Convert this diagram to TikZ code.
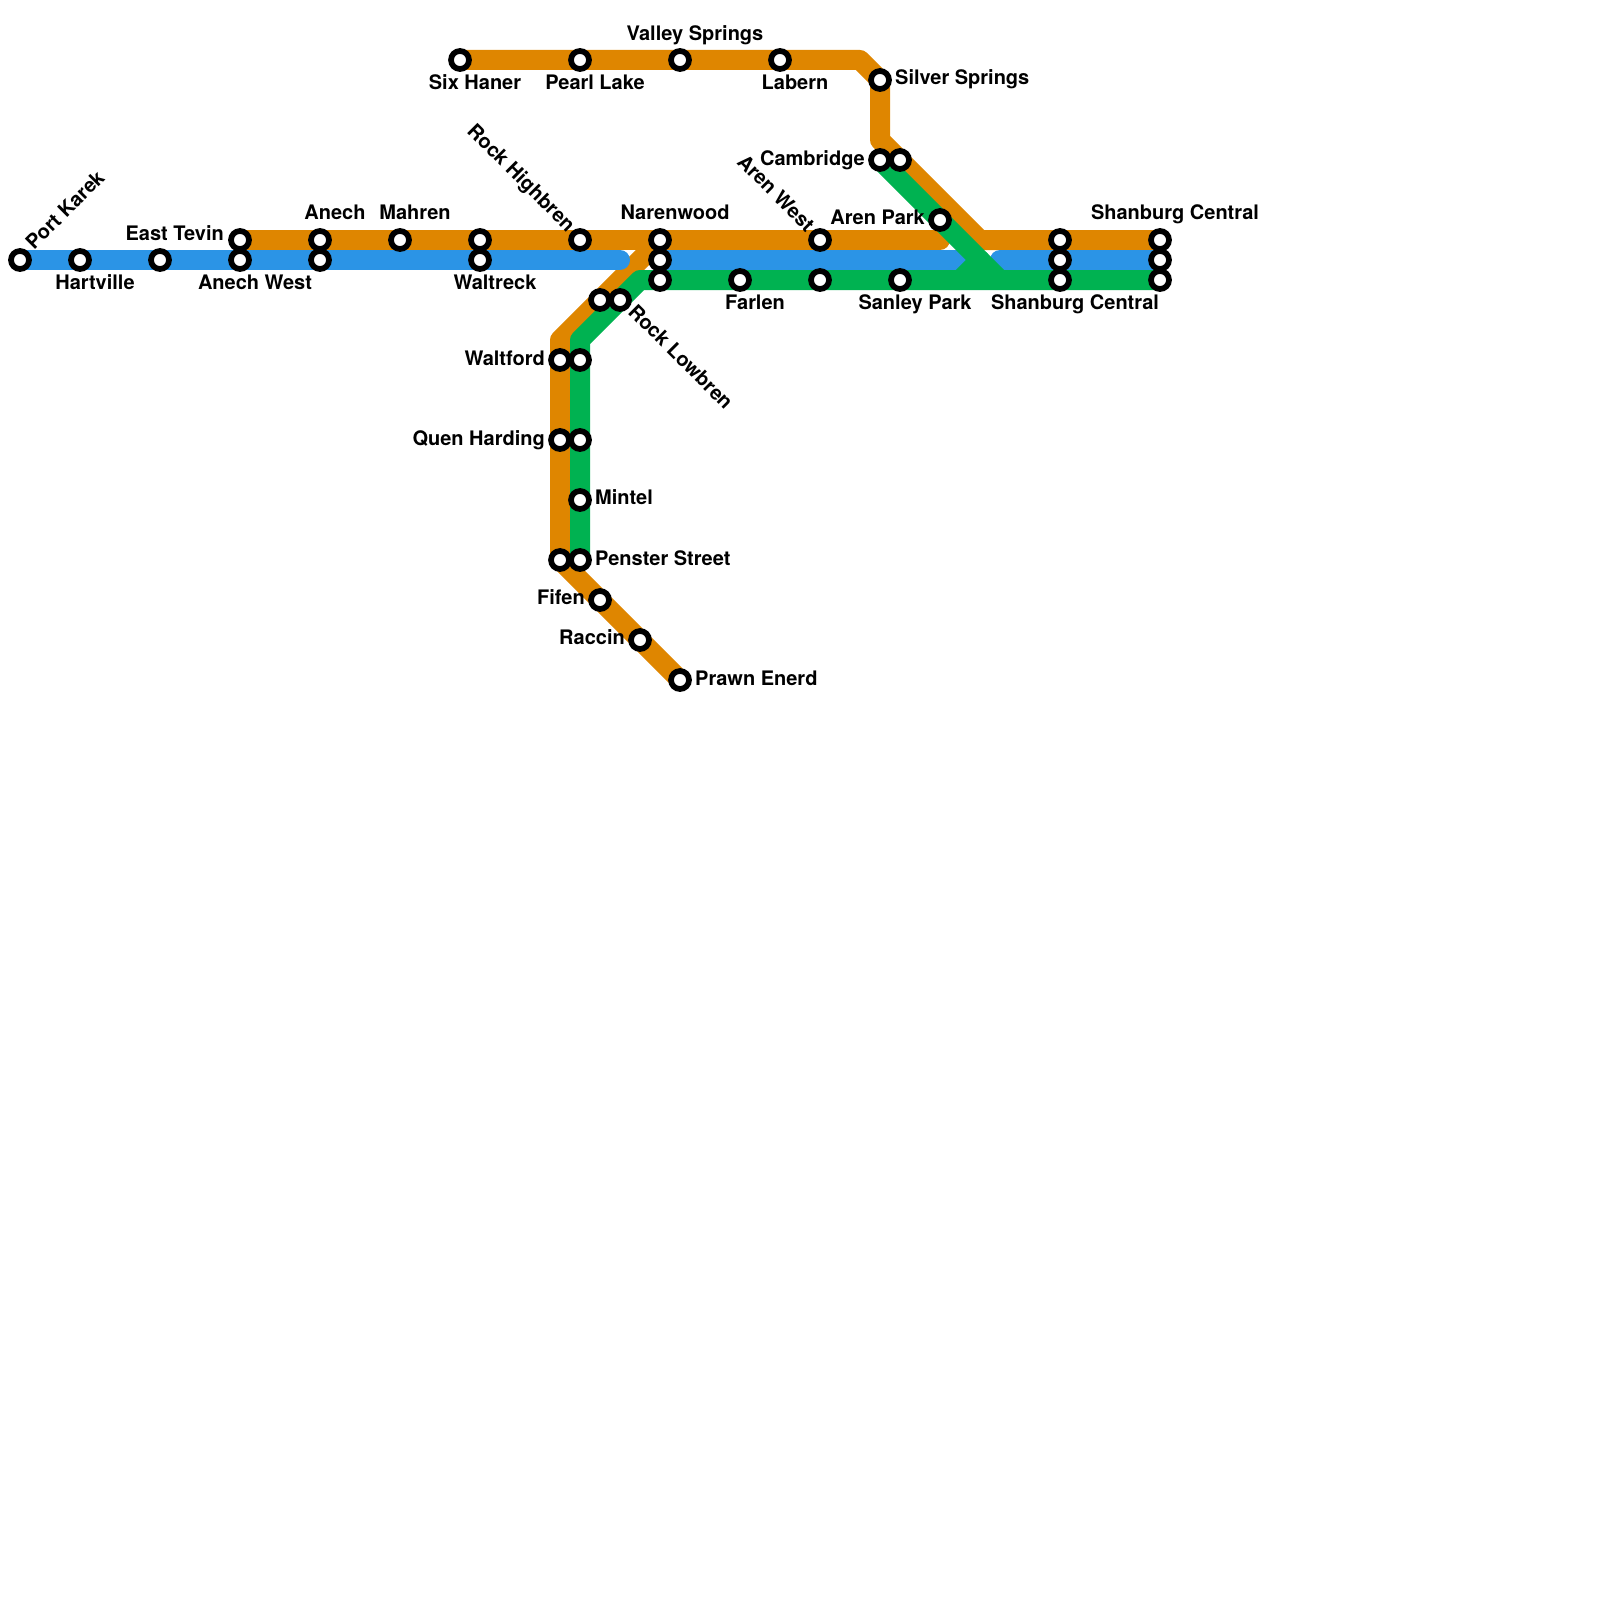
\documentclass[tikz,border=0pt]{standalone}
\usepackage{fontspec}
\setmainfont{TeX Gyre Heros}
\usetikzlibrary{backgrounds}
\definecolor{lineorange}{HTML}{DF8600}
\definecolor{lineblue}{HTML}{2B94E6}
\definecolor{linegreen}{HTML}{00B251}
\tikzset{
  x=1pt,y=-1pt,
  stn/.style={circle,draw=black,fill=white,line width=5.7pt,minimum size=18pt,inner sep=0pt},
  route/.style={line width=20pt,line cap=round,line join=round},
  lbl/.style={font=\fontsize{20pt}{22pt}\selectfont\bfseries,text=black,inner sep=0pt},
  lc/.style={lbl,anchor=base},
  ll/.style={lbl,anchor=base west},
  lr/.style={lbl,anchor=base east},
}
\begin{document}
\begin{tikzpicture}
\useasboundingbox (0,0) rectangle (1600,1600);
% stations
\foreach \n/\x/\y in {
 portkarek/20/260, hartville/80/260, blueC/160/260, easttevin/240/240, anechwest/240/260,
 anech/320/240, anechB/320/260, mahren/400/240, waltreckA/480/240, waltreck/480/260,
 rockhigh/580/240, narenA/660/240, narenB/660/260, narenC/660/280, farlen/740/280,
 arenwest/820/240, arenwestB/820/280, sanley/900/280, arenpark/940/220,
 shanAa/1060/240, shanAb/1060/260, shanAc/1060/280, shanBa/1160/240, shanBb/1160/260, shanBc/1160/280,
 cambridge/880/160, cambridgeB/900/160, silver/880/80, sixhaner/460/60, pearl/580/60,
 valley/680/60, labern/780/60, lowA/600/300, lowB/620/300, waltfordA/560/360, waltfordB/580/360,
 quenA/560/440, quenB/580/440, mintel/580/500, pensterA/560/560, pensterB/580/560,
 fifen/600/600, raccin/640/640, prawn/680/680}
 {\node[stn] (\n) at (\x,\y) {};}
% bends and free ends
\coordinate (oA) at (860,60);
\coordinate (oB) at (880,140);
\coordinate (oC) at (980,240);
\coordinate (oD) at (940,240);
\coordinate (oE) at (560,340);
\coordinate (bA) at (620,260);
\coordinate (bB) at (960,260);
\coordinate (bC) at (1000,260);
\coordinate (gA) at (1000,280);
\coordinate (gB) at (580,340);
\coordinate (gC) at (640,280);
\coordinate (gD) at (960,280);
\coordinate (gE) at (980,260);
\begin{pgfonlayer}{background}
 \draw[route,lineorange] (sixhaner.center) -- (oA) -- (silver.center) -- (oB) -- (oC) -- (shanBa.center);
 \draw[route,lineorange] (easttevin.center) -- (oD);
 \draw[route,lineorange] (narenA.center) -- (oE) -- (pensterA.center) -- (prawn.center);
 \draw[route,lineblue] (portkarek.center) -- (bA);
 \draw[route,lineblue] (narenB.center) -- (bB);
 \draw[route,lineblue] (bC) -- (shanBb.center);
 \draw[route,linegreen] (cambridge.center) -- (gA) -- (shanBc.center);
 \draw[route,linegreen] (pensterB.center) -- (gB) -- (gC) -- (gA);
 \draw[route,linegreen] (gD) -- (gE);
\end{pgfonlayer}
% labels
\node[lbl,anchor=base west,rotate=45] (tPort) at (34,251) {Port Karek};
\node[lc] (tHart) at (95,289) {Hartville};
\node[lr] (tEast) at (224,240) {East Tevin};
\node[lc] (tAW) at (255,289) {Anech West};
\node[lc] (tAn) at (335,219) {Anech};
\node[lc] (tMa) at (415,219) {Mahren};
\node[lc] (tWa) at (495,289) {Waltreck};
\node[lbl,anchor=base east,rotate=-45] (tRH) at (567,233) {Rock Highbren};
\node[lc] (tNa) at (675,219) {Narenwood};
\node[lc] (tFa) at (755,309) {Farlen};
\node[lbl,anchor=base east,rotate=-45] (tAWt) at (806,233) {Aren West};
\node[lc] (tSa) at (915,309) {Sanley Park};
\node[lr] (tAP) at (925,224) {Aren Park};
\node[lr] (tCa) at (865,165) {Cambridge};
\node[ll] (tSi) at (895,85) {Silver Springs};
\node[lc] (tSC) at (1175,219) {Shanburg Central};
\node[lc] (tSD) at (1075,309) {Shanburg Central};
\node[lc] (tSH) at (475,90) {Six Haner};
\node[lc] (tPL) at (595,90) {Pearl Lake};
\node[lc] (tVS) at (695,40.5) {Valley Springs};
\node[lc] (tLa) at (795,90) {Labern};
\node[lbl,anchor=base west,rotate=-45] (tRL) at (627,313) {Rock Lowbren};
\node[lr] (tWf) at (545,365) {Waltford};
\node[lr] (tQH) at (545,445) {Quen Harding};
\node[ll] (tMi) at (595,504.5) {Mintel};
\node[ll] (tPS) at (595,565) {Penster Street};
\node[lr] (tFi) at (585,604) {Fifen};
\node[lr] (tRa) at (625,644) {Raccin};
\node[ll] (tPE) at (695,685) {Prawn Enerd};
\end{tikzpicture}
\end{document}
